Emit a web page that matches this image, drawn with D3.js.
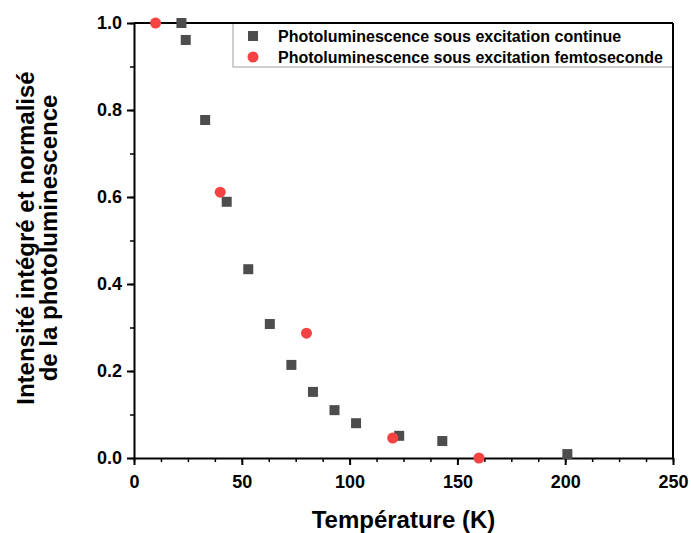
<!DOCTYPE html>
<html>
<head>
<meta charset="utf-8">
<script src="https://cdn.jsdelivr.net/npm/d3@7"></script>
<style>
  body { margin: 0; background: #fff; }
  svg { display: block; font-family: "Liberation Sans", Arial, sans-serif; }
</style>
</head>
<body>
<div id="chart"></div>
<script>
// Photoluminescence sous excitation continue (squares)
const contTemp = [22, 24, 33, 43, 53, 63, 73, 83, 93, 103, 123, 143, 201];
const contInt = [1.0, 0.961, 0.777, 0.589, 0.434, 0.308, 0.214, 0.152, 0.110, 0.080, 0.051, 0.039, 0.009];

// Photoluminescence sous excitation femtoseconde (circles)
const femtoTemp = [10, 40, 80, 120, 160];
const femtoInt = [1.0, 0.611, 0.287, 0.046, 0.0];

const seriesNames = ["Photoluminescence sous excitation continue", "Photoluminescence sous excitation femtoseconde"];
const xTicks = [0, 50, 100, 150, 200, 250];
const yTicks = [0.0, 0.2, 0.4, 0.6, 0.8, 1.0];

const width = 691, height = 533;
const margin = {top: 23, right: 18, bottom: 75, left: 134};

const svg = d3.select("#chart").append("svg")
    .attr("width", width)
    .attr("height", height);

const x = d3.scaleLinear().domain([0, 250]).range([margin.left, width - margin.right]);
const y = d3.scaleLinear().domain([0, 1]).range([height - margin.bottom, margin.top]);

// minor ticks
svg.append("g")
    .attr("transform", `translate(0,${y(0)})`)
    .call(d3.axisBottom(x).tickValues(d3.range(0, 250.1, 12.5)).tickSize(4).tickSizeOuter(0).tickFormat(""))
    .call(g => g.select(".domain").remove())
    .call(g => g.selectAll("line").attr("stroke-width", 1.5));
svg.append("g")
    .attr("transform", `translate(${x(0)},0)`)
    .call(d3.axisLeft(y).tickValues(d3.range(0, 1.01, 0.1)).tickSize(4).tickSizeOuter(0).tickFormat(""))
    .call(g => g.select(".domain").remove())
    .call(g => g.selectAll("line").attr("stroke-width", 1.5));

// major axes
const xAxis = svg.append("g")
    .attr("transform", `translate(0,${y(0)})`)
    .call(d3.axisBottom(x).tickValues(xTicks).tickSize(7).tickSizeOuter(0).tickPadding(10));
const yAxis = svg.append("g")
    .attr("transform", `translate(${x(0)},0)`)
    .call(d3.axisLeft(y).tickValues(yTicks).tickSize(7).tickSizeOuter(0).tickPadding(5).tickFormat(d3.format(".1f")));

[xAxis, yAxis].forEach(g => {
    g.select(".domain").attr("stroke-width", 2);
    g.selectAll(".tick line").attr("stroke-width", 2);
    g.selectAll(".tick text")
        .attr("fill", "#000")
        .style("font-size", "18px")
        .style("font-weight", "bold")
        .style("font-family", "'Liberation Sans', Arial, sans-serif");
});

// legend box
const legend = svg.append("g");
legend.append("rect")
    .attr("x", 233).attr("y", margin.top)
    .attr("width", x(250) - 233).attr("height", 44)
    .attr("fill", "#fff")
    .attr("stroke", "#a0a0a0")
    .attr("stroke-width", 1);
legend.append("rect")
    .attr("x", 248).attr("y", 31).attr("width", 10).attr("height", 10)
    .attr("fill", "#4d4d4d");
legend.append("circle")
    .attr("cx", 253).attr("cy", 57).attr("r", 5.5)
    .attr("fill", "#f54242");
legend.selectAll("text.leg")
    .data(seriesNames)
    .join("text")
    .attr("class", "leg")
    .attr("x", 278)
    .attr("y", (d, i) => 42 + i * 21)
    .style("font-size", "16px")
    .style("font-weight", "bold")
    .text(d => d);

// frame top and right
svg.append("line")
    .attr("x1", x(0)).attr("x2", x(250)).attr("y1", y(1)).attr("y2", y(1))
    .attr("stroke", "#000").attr("stroke-width", 2);
svg.append("line")
    .attr("x1", x(250)).attr("x2", x(250)).attr("y1", y(1)).attr("y2", y(0))
    .attr("stroke", "#000").attr("stroke-width", 2);

// data
const contData = contTemp.map((t, i) => ({t, v: contInt[i]}));
const femtoData = femtoTemp.map((t, i) => ({t, v: femtoInt[i]}));

svg.append("g").selectAll("rect")
    .data(contData)
    .join("rect")
    .attr("x", d => x(d.t) - 5)
    .attr("y", d => y(d.v) - 5)
    .attr("width", 10).attr("height", 10)
    .attr("fill", "#4d4d4d");

svg.append("g").selectAll("circle")
    .data(femtoData)
    .join("circle")
    .attr("cx", d => x(d.t))
    .attr("cy", d => y(d.v))
    .attr("r", 5.5)
    .attr("fill", "#f54242");

// axis titles
svg.append("text")
    .attr("x", (x(0) + x(250)) / 2)
    .attr("y", 528)
    .attr("text-anchor", "middle")
    .style("font-size", "24px")
    .style("font-weight", "bold")
    .text("Température (K)");

const yTitle = svg.append("text")
    .attr("transform", `translate(34,238) rotate(-90)`)
    .attr("text-anchor", "middle")
    .style("font-size", "24px")
    .style("font-weight", "bold");
yTitle.append("tspan").attr("x", 0).attr("dy", 0).text("Intensité intégré et normalisé");
yTitle.append("tspan").attr("x", 0).attr("dy", 23).text("de la photoluminescence");
</script>
</body>
</html>
